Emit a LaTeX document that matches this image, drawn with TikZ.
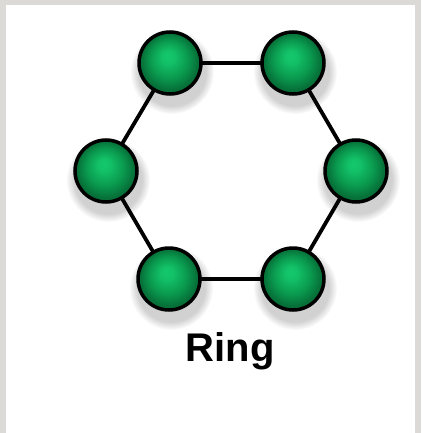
\documentclass[tikz,border=0pt]{standalone}
\usepackage{fontspec}
\setmainfont{Liberation Sans}
\usetikzlibrary{fadings}
\definecolor{framegray}{HTML}{DCDAD6}
\definecolor{ballhl}{HTML}{14C86C}
\definecolor{ballmid}{HTML}{0A9A4F}
\definecolor{balldark}{HTML}{067038}
\pgfdeclareradialshading{greenball}{\pgfpoint{-2bp}{6bp}}{%
  color(0bp)=(ballhl); color(5bp)=(ballhl!85!ballmid); color(15bp)=(ballmid); color(23bp)=(balldark); color(30bp)=(balldark)}
\pgfdeclarelayer{background}
\pgfsetlayers{background,main}
\tikzset{
  ballnode/.style={circle, minimum size=62pt, inner sep=0pt, draw=black, line width=3.5pt, shading=greenball},
  ringlink/.style={draw=black, line width=3.8pt},
  ballshadow/.style={fill=black, fill opacity=0.18, path fading=circle with fuzzy edge 20 percent}
}
\begin{document}
\begin{tikzpicture}[x=1pt,y=-1pt]
  \useasboundingbox (0,0) rectangle (421,433);
  \node[ballnode] (tl) at (170,63) {};
  \node[ballnode] (tr) at (293,63) {};
  \node[ballnode] (r) at (356,171) {};
  \node[ballnode] (br) at (293,279) {};
  \node[ballnode] (bl) at (169,279) {};
  \node[ballnode] (l) at (106,171) {};
  \node[font=\bfseries\fontsize{40}{40}\selectfont] (label) at (230,351) {Ring};
  \begin{pgfonlayer}{background}
    \fill[framegray] (0,0) rectangle (421,433);
    \fill[white] (6,5) rectangle (415,433);
    \foreach \n in {tl,tr,r,br,bl,l}{
      \fill[ballshadow] (\n.center) ++(2,9) circle (42pt);
    }
    \draw[ringlink] (tl.center) -- (tr.center) -- (r.center) -- (br.center) -- (bl.center) -- (l.center) -- cycle;
  \end{pgfonlayer}
\end{tikzpicture}
\end{document}
